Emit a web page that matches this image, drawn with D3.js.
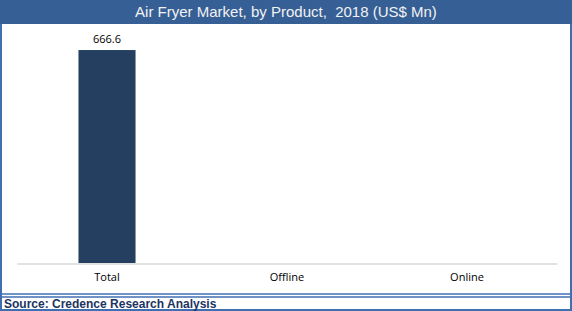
<!DOCTYPE html>
<html>
<head>
<meta charset="utf-8">
<script src="https://cdn.jsdelivr.net/npm/d3@7"></script>
<style>
  body { margin: 0; background: #fff; }
  svg { display: block; }
</style>
</head>
<body>
<main></main>
<script>
const categories = ["Total", "Offline", "Online"];
const values = [666.6, null, null];
const valueLabels = ["666.6", "", ""];
const titleText = "Air Fryer Market, by Product,  2018 (US$ Mn)";
const sourceText = "Source: Credence Research Analysis";

const drawChart = () => {
    const outerWidth = 572,
        outerHeight = 311;

    const svg = d3.select("main").append("svg")
        .attr("width", outerWidth)
        .attr("height", outerHeight);

    // frame + title bar
    svg.append("rect")
        .attr("x", 1).attr("y", 1)
        .attr("width", outerWidth - 2).attr("height", outerHeight - 2)
        .attr("fill", "#fff")
        .attr("stroke", "#3f6fb0")
        .attr("stroke-width", 2);

    svg.append("rect")
        .attr("x", 0).attr("y", 0)
        .attr("width", outerWidth).attr("height", 24)
        .attr("fill", "#365f96");

    svg.append("text")
        .attr("x", outerWidth / 2)
        .attr("y", 17)
        .attr("text-anchor", "middle")
        .attr("fill", "#f2f2f2")
        .style("white-space", "pre")
        .style("font-family", "Liberation Sans, Arial, sans-serif")
        .style("font-size", "15px")
        .text(titleText);

    // source strip
    [294, 297].forEach(y => {
        svg.append("line")
            .attr("x1", 0).attr("x2", outerWidth)
            .attr("y1", y).attr("y2", y)
            .attr("stroke", "#3f6fb0")
            .attr("stroke-width", 1.5);
    });

    svg.append("text")
        .attr("x", 4)
        .attr("y", 308)
        .attr("fill", "#1c3461")
        .style("font-family", "Liberation Sans, Arial, sans-serif")
        .style("font-weight", "bold")
        .style("font-size", "12px")
        .text(sourceText);

    // plot
    const xScale = d3.scaleBand()
        .domain(categories)
        .range([17, 557])
        .paddingInner(0.683)
        .paddingOuter(0.3415);

    const yScale = d3.scaleLinear()
        .domain([0, 750])
        .range([263, 23.4]);

    const xAxis = d3.axisBottom(xScale).tickSize(0).tickPadding(10);

    const gx = svg.append("g")
        .attr("transform", "translate(0,263.5)")
        .call(xAxis);
    gx.select(".domain").attr("stroke", "#d9d9d9").attr("stroke-width", 1.3);
    gx.selectAll("text")
        .attr("fill", "#000")
        .style("font-family", "Open Sans, Liberation Sans, sans-serif")
        .style("font-size", "11px");

    const data = categories.map((c, i) => ({cat: c, v: values[i], label: valueLabels[i]}));

    svg.selectAll(".bar")
        .data(data.filter(d => d.v != null))
        .enter()
        .append("rect")
        .attr("class", "bar")
        .attr("x", d => xScale(d.cat))
        .attr("width", xScale.bandwidth())
        .attr("y", d => yScale(d.v))
        .attr("height", d => yScale(0) - yScale(d.v))
        .attr("fill", "#243f60");

    svg.selectAll(".val")
        .data(data.filter(d => d.v != null))
        .enter()
        .append("text")
        .attr("class", "val")
        .attr("x", d => xScale(d.cat) + xScale.bandwidth() / 2)
        .attr("y", d => yScale(d.v) - 7)
        .attr("text-anchor", "middle")
        .attr("fill", "#000")
        .style("font-family", "Open Sans, Liberation Sans, sans-serif")
        .style("font-size", "11px")
        .text(d => d.label);
}
drawChart();
</script>
</body>
</html>
